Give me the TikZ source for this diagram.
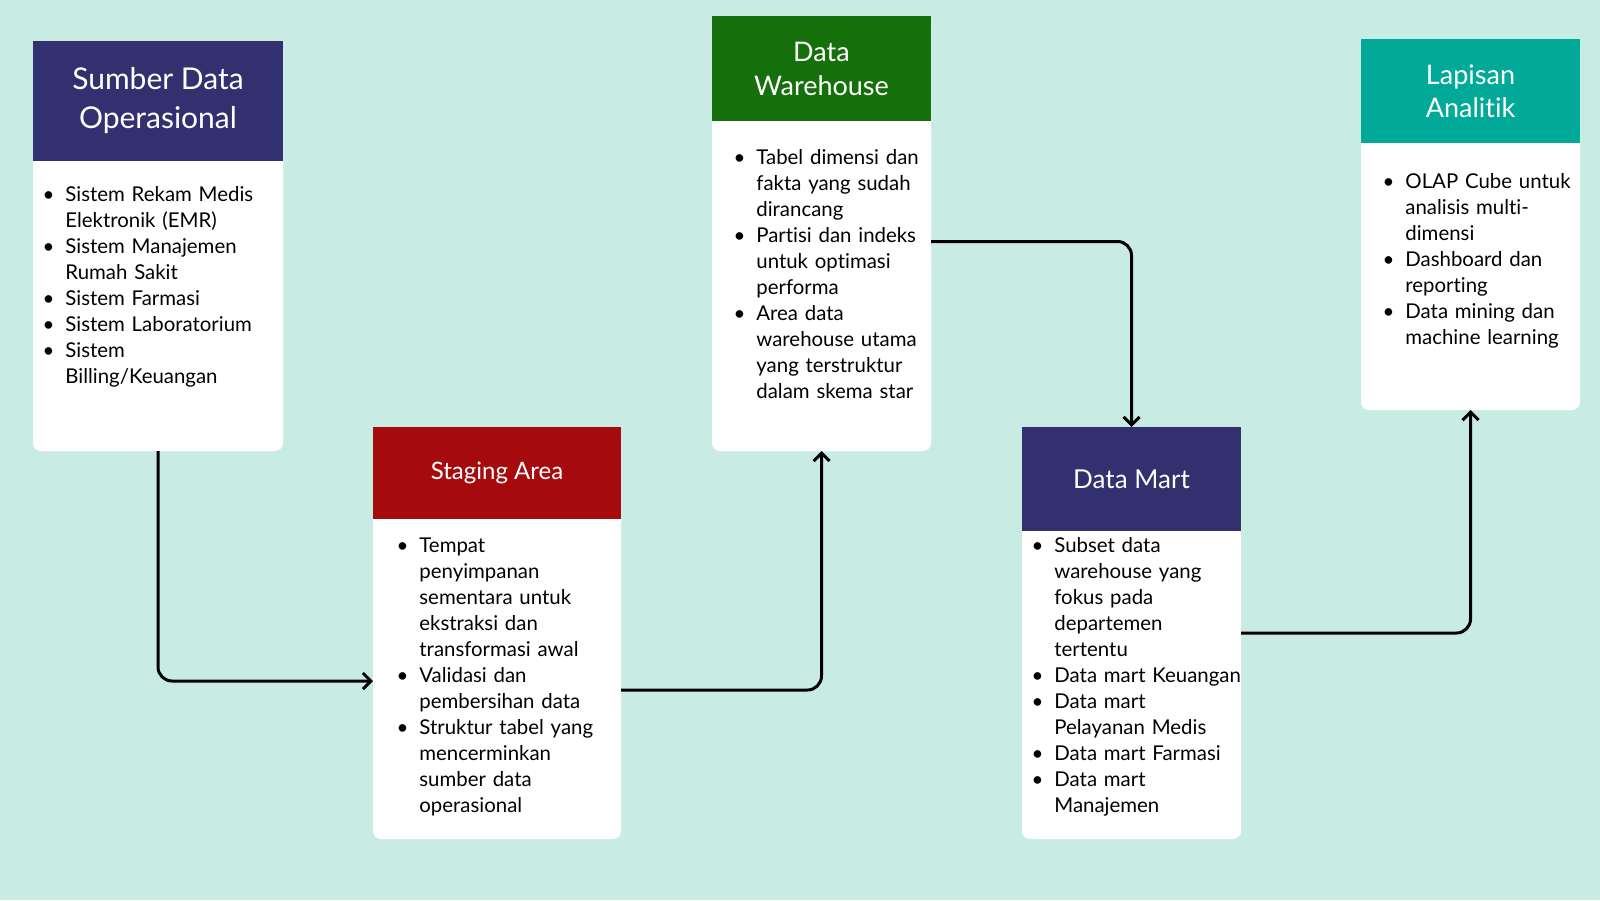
\documentclass[tikz,border=0pt]{standalone}
\usepackage{fontspec}
\setmainfont{Lato}[Ligatures={NoCommon}]
\usepackage{enumitem}
\usetikzlibrary{arrows.meta}

\definecolor{bgmint}{RGB}{200,236,228}
\definecolor{hdnavy}{RGB}{51,48,112}
\definecolor{hdred}{RGB}{165,11,12}
\definecolor{hdgreen}{RGB}{21,111,11}
\definecolor{hdteal}{RGB}{0,169,152}

\newcommand{\listfont}{\fontsize{10.2}{13}\selectfont}
\newlist{pts}{itemize}{1}
\setlist[pts]{label=\textbullet,itemsep=0pt,parsep=0pt,topsep=0pt,partopsep=0pt,labelsep=5.5pt}

\begin{document}
\begin{tikzpicture}[x=0.5pt,y=-0.5pt,
  card/.style={fill=white,rounded corners=4pt,inner sep=0pt,outer sep=0pt},
  head/.style={anchor=north,inner sep=0pt,outer sep=0pt,text=white,align=center},
  list/.style={anchor=north west,inner sep=0pt,text width=150pt,align=left,font=\listfont},
  flow/.style={line width=1.5pt,rounded corners=7pt,-{Straight Barb[length=4pt,width=8pt]}}]
  % background
  \fill[bgmint] (0,0) rectangle (1600,900);
  \useasboundingbox (0,0) rectangle (1600,900);

  % sumber data
  \node[card,minimum width=125pt,minimum height=205pt,at={(158,246)}] (src) {};
  \node[head,fill=hdnavy,minimum width=125pt,minimum height=60pt,at={(src.north)},
    font=\fontsize{15}{19.5}\selectfont] (srchead) {Sumber Data\\Operasional};
  \node[list,at={([yshift=-7pt]srchead.south west)}] (srclist) {%
    \begin{pts}[leftmargin=16pt]
      \item Sistem Rekam Medis\\ Elektronik (EMR)
      \item Sistem Manajemen\\ Rumah Sakit
      \item Sistem Farmasi
      \item Sistem Laboratorium
      \item Sistem\\ Billing/Keuangan
    \end{pts}};

  % staging
  \node[card,minimum width=124pt,minimum height=206pt,at={(497,633)}] (stg) {};
  \node[head,fill=hdred,minimum width=124pt,minimum height=46pt,at={(stg.north)},
    font=\fontsize{12}{15}\selectfont] (stghead) {\raisebox{-1pt}{Staging Area}};
  \node[list,at={([yshift=-3.5pt]stghead.south west)}] (stglist) {%
    \begin{pts}[leftmargin=23pt]
      \item Tempat\\ penyimpanan\\ sementara untuk\\ ekstraksi dan\\ transformasi awal
      \item Validasi dan\\ pembersihan data
      \item Struktur tabel yang\\ mencerminkan\\ sumber data\\ operasional
    \end{pts}};

  % warehouse
  \node[card,minimum width=109.5pt,minimum height=217.5pt,at={(821.5,233.5)}] (wh) {};
  \node[head,fill=hdgreen,minimum width=109.5pt,minimum height=52.5pt,at={(wh.north)},
    font=\fontsize{13.5}{17}\selectfont] (whhead) {Data\\Warehouse};
  \node[list,at={([yshift=-8.5pt]whhead.south west)}] (whlist) {%
    \begin{pts}[leftmargin=22pt]
      \item Tabel dimensi dan\\ fakta yang sudah\\ dirancang
      \item Partisi dan indeks\\ untuk optimasi\\ performa
      \item Area data\\ warehouse utama\\ yang terstruktur\\ dalam skema star
    \end{pts}};

  % data mart
  \node[card,minimum width=109.5pt,minimum height=206pt,at={(1131.5,633)}] (mart) {};
  \node[head,fill=hdnavy,minimum width=109.5pt,minimum height=52pt,at={(mart.north)},
    font=\fontsize{13}{16}\selectfont] (marthead) {Data Mart};
  \node[list,at={([yshift=2.5pt]marthead.south west)}] (martlist) {%
    \begin{pts}[leftmargin=16pt]
      \item Subset data\\ warehouse yang\\ fokus pada\\ departemen\\ tertentu
      \item Data mart Keuangan
      \item Data mart\\ Pelayanan Medis
      \item Data mart Farmasi
      \item Data mart\\ Manajemen
    \end{pts}};

  % analitik
  \node[card,minimum width=109.5pt,minimum height=185.5pt,at={(1470.5,224.5)}] (ana) {};
  \node[head,fill=hdteal,minimum width=109.5pt,minimum height=52pt,at={(ana.north)},
    font=\fontsize{13.5}{16.5}\selectfont] (anahead) {Lapisan\\Analitik};
  \node[list,at={([yshift=-9.5pt]anahead.south west)}] (analist) {%
    \begin{pts}[leftmargin=22pt]
      \item OLAP Cube untuk\\ analisis multi-\\ dimensi
      \item Dashboard dan\\ reporting
      \item Data mining dan\\ machine learning
    \end{pts}};

  % arrows
  \draw[flow] (src.south) |- ([yshift=-24pt]stg.west);
  \draw[flow] ([yshift=-28.5pt]stg.east) -| (wh.south);
  \draw[flow] ([yshift=-4pt]wh.east) -| (mart.north);
  \draw[flow] (mart.east) -| (ana.south);
\end{tikzpicture}
\end{document}
